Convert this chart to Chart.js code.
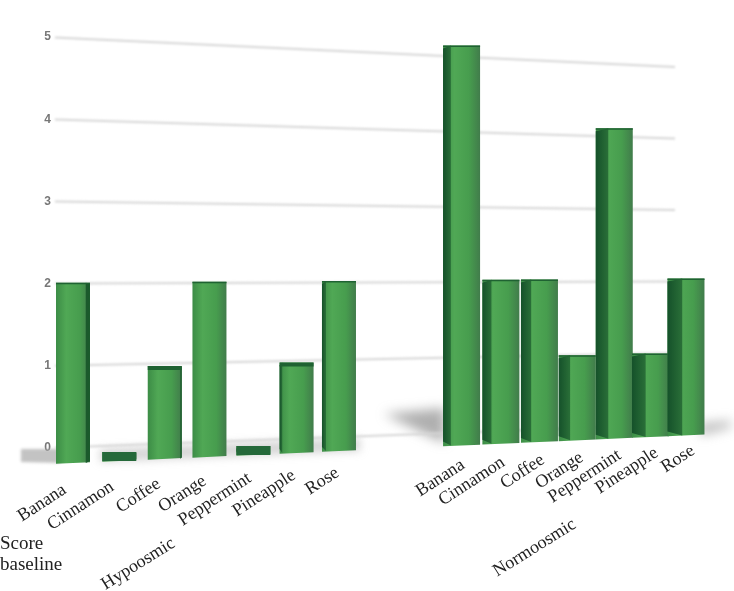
<!DOCTYPE html>
<html>
<head>
<meta charset="utf-8">
<title>Score baseline</title>
<style>
  html, body { margin: 0; padding: 0; background: #fff; }
  canvas { display: block; }
</style>
<script src="https://cdn.jsdelivr.net/npm/chart.js@4"></script>
</head>
<body>
<canvas id="chart" width="734" height="591"></canvas>
<script>
const odors = ["Banana", "Cinnamon", "Coffee", "Orange", "Peppermint", "Pineapple", "Rose"];
const gap = ["", ""];
const categories = [...odors, ...gap, ...odors];
const hypoosmic = [2, 0, 1, 2, 0, 1, 2];
const normoosmic = [5, 2, 2, 1, 4, 1, 2];
const yTicks = [0, 1, 2, 3, 4, 5];
const groupLabels = ["Hypoosmic", "Normoosmic"];
const axisNote = ["Score", "baseline"];

const SERIF = "'Liberation Serif', serif";
const PLOT_LEFT = 54, PLOT_RIGHT = 702;

// picture is in perspective: scale pixels -> photographed pixels
function slotOf(px) {
  return (px - PLOT_LEFT) / ((PLOT_RIGHT - PLOT_LEFT) / categories.length) - 0.5;
}
function mapX(px) {
  const i = slotOf(px);
  return 73 + 46.64 * i - 0.385 * i * i;
}
function barTop(v, x) {
  return 457.3 - 0.045 * x - v * (87 - 0.019 * x);
}
function barFloor(x) {
  return 466.3 - 0.045 * x;
}
function wallY(py, x) {
  const t = (x - 47) / 628;
  const far = 67 + (py - 37) * 357.5 / 411;
  return py + (far - py) * t;
}

function poly(ctx, pts, fill) {
  ctx.beginPath();
  pts.forEach((p, i) => i ? ctx.lineTo(p[0], p[1]) : ctx.moveTo(p[0], p[1]));
  ctx.closePath();
  ctx.fillStyle = fill;
  ctx.fill();
}

function drawShadows(ctx) {
  ctx.save();
  ctx.filter = "blur(4px)";
  poly(ctx, [[100, 449], [360, 438], [360, 451], [100, 462]], "rgba(150,150,150,0.4)");
  ctx.filter = "blur(6px)";
  poly(ctx, [[384, 414], [445, 408], [445, 443], [425, 434]], "rgba(110,110,110,0.55)");
  poly(ctx, [[700, 424], [731, 421], [731, 427], [700, 435]], "rgba(130,130,130,0.6)");
  ctx.filter = "blur(1.5px)";
  poly(ctx, [[21, 449], [60, 449], [60, 463], [21, 462]], "rgba(170,170,170,0.7)");
  ctx.restore();
}

function drawGrid(chart) {
  const ctx = chart.ctx, y = chart.scales.y;
  ctx.save();
  ctx.filter = "blur(0.8px)";
  ctx.strokeStyle = "#d6d6d6";
  ctx.lineWidth = 2;
  y.ticks.forEach(t => {
    const py = y.getPixelForValue(t.value);
    ctx.beginPath();
    ctx.moveTo(55, wallY(py, 55));
    ctx.lineTo(675, wallY(py, 675));
    ctx.stroke();
  });
  ctx.restore();
}

function drawBar(ctx, el, scale) {
  const x = mapX(el.x);
  const v = scale.getValueForPixel(el.y);
  const w = x < 400 ? 34 : 37;
  const l = x - w / 2, r = x + w / 2;
  const top = barTop(v, x), bot = barFloor(x);
  const side = (x - 210) * 0.031;

  const face = ctx.createLinearGradient(l, 0, r, 0);
  face.addColorStop(0, "#3c8c46");
  face.addColorStop(0.3, "#50a855");
  face.addColorStop(0.7, "#479d4e");
  face.addColorStop(1, "#417c4b");
  poly(ctx, [[l, top], [r, top], [r, bot - 0.045 * w / 2], [l, bot + 0.045 * w / 2]], face);

  if (side > 1) {
    const g = ctx.createLinearGradient(l, 0, l + side, 0);
    g.addColorStop(0, "#15512a");
    g.addColorStop(1, "#2a6f38");
    poly(ctx, [[l, top + 3], [l + side, top], [l + side, bot], [l, bot - 4]], g);
  } else if (side < -1) {
    poly(ctx, [[r + side, top], [r, top + 1], [r, bot - 2], [r + side, bot]], "#1b5a2c");
  }

  // top of the bar, seen from above on the low ones
  const capH = v < 0.05 ? bot - top : (x < 400 && v <= 1 ? 4 : 1.5);
  poly(ctx, [[l, top], [r, top], [r, top + capH], [l, top + capH]], v < 0.05 ? "#25693a" : "#1f6232");
}

const perspectivePlugin = {
  id: "perspective",
  beforeDatasetsDraw(chart) {
    drawShadows(chart.ctx);
    drawGrid(chart);
  },
  beforeDatasetDraw(chart, args) {
    const ctx = chart.ctx;
    ctx.save();
    ctx.filter = "blur(0.6px)";
    args.meta.data.forEach((el, i) => {
      if (args.meta._dataset.data[i] !== null) drawBar(ctx, el, chart.scales.y);
    });
    ctx.restore();
    return false;
  },
  beforeDraw(chart) {
    // move the axis labels down the slanted floor
    const xs = chart.scales.x;
    xs.getLabelItems().forEach((item, i) => {
      if (!item.label) return;
      const cx = mapX(xs.getPixelForTick(i));
      item.options.translation = [cx + (cx - 300) * 0.025, 497 - 0.064 * cx];
      item.options.textAlign = "right";
      item.options.textBaseline = "alphabetic";
      item.textOffset = 0;
    });
  },
  afterDraw(chart) {
    const ctx = chart.ctx;
    ctx.save();
    ctx.fillStyle = "#222";
    ctx.font = "19px " + SERIF;
    ctx.textAlign = "left";
    ctx.fillText(axisNote[0], 0, 549);
    ctx.fillText(axisNote[1], 0, 570);
    ctx.font = "18px " + SERIF;
    [[groupLabels[0], 176, 546], [groupLabels[1], 577, 527]].forEach(g => {
      ctx.save();
      ctx.translate(g[1], g[2]);
      ctx.rotate(-32 * Math.PI / 180);
      ctx.textAlign = "right";
      ctx.fillText(g[0], 0, 0);
      ctx.restore();
    });
    ctx.restore();
  }
};

new Chart(document.getElementById("chart"), {
  type: "bar",
  data: {
    labels: categories,
    datasets: [
      { label: groupLabels[0], data: [...hypoosmic, ...gap.map(() => null), ...odors.map(() => null)] },
      { label: groupLabels[1], data: [...odors.map(() => null), ...gap.map(() => null), ...normoosmic] }
    ]
  },
  options: {
    responsive: false,
    animation: false,
    layout: { padding: { top: 37, right: 734 - PLOT_RIGHT, bottom: 0, left: 0 } },
    plugins: { legend: { display: false }, tooltip: { enabled: false } },
    datasets: { bar: { grouped: false } },
    scales: {
      x: {
        z: 1,
        afterFit: s => { s.height = 143; },
        grid: { display: false },
        border: { display: false },
        ticks: {
          autoSkip: false,
          minRotation: 33,
          maxRotation: 33,
          color: "#222",
          font: { family: SERIF, size: 18 }
        }
      },
      y: {
        min: 0,
        max: 5,
        afterFit: s => { s.width = PLOT_LEFT; },
        afterBuildTicks: s => { s.ticks = yTicks.map(v => ({ value: v })); },
        grid: { display: false, drawTicks: false },
        border: { display: false },
        ticks: {
          padding: 3,
          color: "#777",
          font: { family: "'Liberation Sans', sans-serif", size: 12, weight: "bold" }
        }
      }
    }
  },
  plugins: [perspectivePlugin]
});
</script>
</body>
</html>
